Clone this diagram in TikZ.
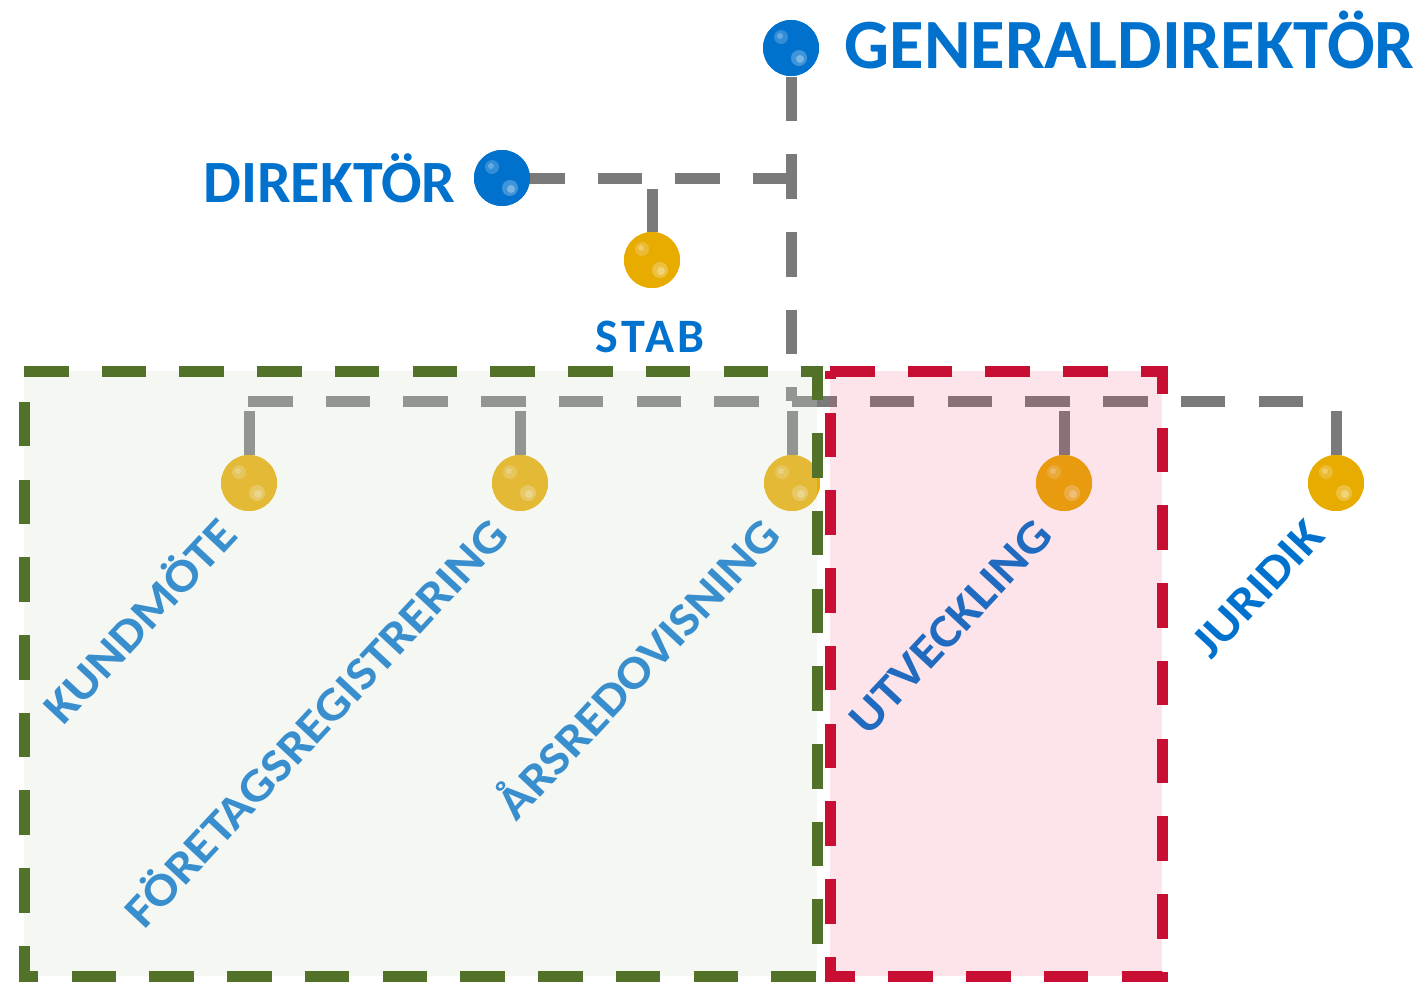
\documentclass[tikz,border=0pt]{standalone}
\usepackage{fontspec}
\setmainfont{Carlito}
\usetikzlibrary{calc}
\definecolor{orgblue}{RGB}{0,114,206}
\definecolor{orgyellow}{RGB}{232,171,0}
\definecolor{orggray}{RGB}{122,122,122}
\definecolor{orggreen}{RGB}{82,113,41}
\definecolor{orgred}{RGB}{200,14,50}
\definecolor{greenfill}{RGB}{217,225,206}
\definecolor{redfill}{RGB}{233,62,105}
\tikzset{every picture/.style={line width=0.75pt}}
\tikzset{
  link/.style={draw=orggray, line width=8.25pt, dash pattern=on 33.4pt off 24.9pt},
  boxline/.style={line width=8.25pt, dash pattern=on 33.4pt off 24.9pt},
  ball/.style={circle, inner sep=0pt, minimum size=42pt, fill=#1,
    path picture={
      \fill[white, opacity=.25] ($(path picture bounding box.center)+(8,-10)$) circle (8);
      \fill[white, opacity=.3] ($(path picture bounding box.center)+(9,-11)$) circle (4);
      \fill[white, opacity=.2] ($(path picture bounding box.center)+(-10,11)$) circle (7);
      \fill[white, opacity=.25] ($(path picture bounding box.center)+(-11,12)$) circle (3);
    }},
  toplabel/.style={text=orgblue, inner sep=0pt, font=\bfseries\fontsize{#1}{#1}\selectfont},
  unitlabel/.style={text=orgblue, inner sep=0pt, rotate=47, anchor=base east,
    font=\bfseries\fontsize{35}{35}\selectfont\addfontfeature{FakeStretch=1.11}}
}

\begin{document}
\begin{tikzpicture}[x=0.75pt,y=0.75pt,yscale=-1,xscale=1]
\useasboundingbox (0,0) rectangle (1427,982);
% Balls
\node[ball=orgblue] (gd) at (791,48) {};
\node[ball=orgblue] (dir) at (502,178) {};
\node[ball=orgyellow] (stab) at (652,260) {};
\node[ball=orgyellow] (kund) at (249,483) {};
\node[ball=orgyellow] (foretag) at (520,483) {};
\node[ball=orgyellow] (ars) at (792,483) {};
\node[ball=orgyellow] (utv) at (1064,483) {};
\node[ball=orgyellow] (jur) at (1336,483) {};
% Connector points
\coordinate (gdbar) at (791,401);
\coordinate (dirbar) at (786,178);
\coordinate (stabtop) at (652,189);
\coordinate (barleft) at (248,401);
\coordinate (barright) at (1336,401);
% Straight Lines
\draw[link] (gd.south) -- (gdbar);
\draw[link, shorten <=13.5pt] (dir.center) -- (dirbar);
\draw[link] (stabtop) -- (stab.north);
\draw[link] (barleft) -- (barright);
\foreach \n in {kund,foretag,ars,utv,jur}
  \draw[link] ($(\n.north)+(0,-44)$) -- (\n.north);
% redraw balls over the lines
\foreach \n/\c in {gd/orgblue,dir/orgblue,stab/orgyellow,kund/orgyellow,foretag/orgyellow,ars/orgyellow,utv/orgyellow,jur/orgyellow}
  \node[ball=\c] at (\n) {};
% Text Node
\node[toplabel=53, anchor=base west] (gdlabel) at (844,68) {GENERALDIREKTÖR};
\node[toplabel=45, anchor=base east] (dirlabel) at (456,202) {DIREKTÖR};
\node[toplabel=36, anchor=base] (stablabel) at (650,352) {\addfontfeature{LetterSpace=8}STAB};
% Text Node
\node[unitlabel] (kundlabel) at ($(kund)+(-9,54)$) {KUNDMÖTE};
\node[unitlabel] (foretaglabel) at ($(foretag)+(-9,54)$) {FÖRETAGSREGISTRERING};
\node[unitlabel] (arslabel) at ($(ars)+(-9,54)$) {ÅRSREDOVISNING};
\node[unitlabel] (utvlabel) at ($(utv)+(-9,54)$) {UTVECKLING};
\node[unitlabel] (jurlabel) at ($(jur)+(-9,54)$) {JURIDIK};
% Shape: Rectangles
\fill[greenfill, fill opacity=.265] (24,371) rectangle (817,976);
\fill[redfill, fill opacity=.14] (830,371) rectangle (1162,976);
\draw[boxline, draw=orggreen] (24,371) -- (817,371) -- (817,976) -- (24,976) -- cycle;
\draw[boxline, draw=orgred] (830,371) -- (1162,371) -- (1162,976) -- (830,976) -- cycle;
\end{tikzpicture}
\end{document}
